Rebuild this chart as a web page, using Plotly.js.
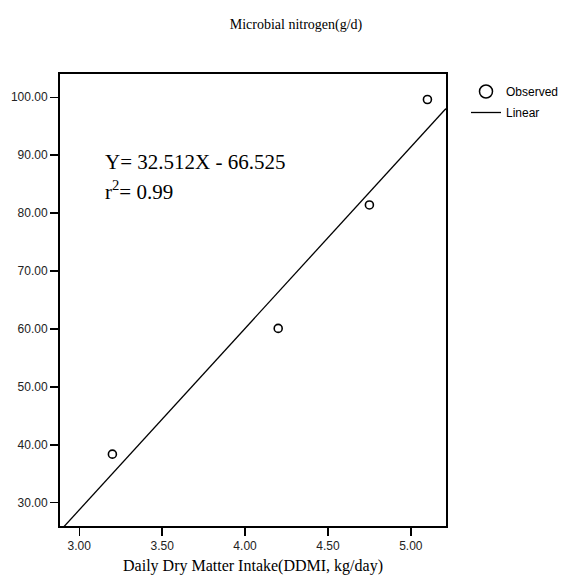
<!DOCTYPE html>
<html>
<head>
<meta charset="utf-8">
<script src="https://cdn.plot.ly/plotly-3.0.1.min.js"></script>
<style>html,body{margin:0;padding:0;background:#fff;}#chart{width:563px;height:576px;}</style>
</head>
<body>
<div id="chart"></div>
<script>
var ddmi = [3.20, 4.20, 4.75, 5.10];
var microbialN = [38.4, 60.1, 81.4, 99.6];
var xTickVals = [3.0, 3.5, 4.0, 4.5, 5.0];
var xTickText = ['3.00', '3.50', '4.00', '4.50', '5.00'];
var yTickVals = [30, 40, 50, 60, 70, 80, 90, 100];
var yTickText = ['30.00', '40.00', '50.00', '60.00', '70.00', '80.00', '90.00', '100.00'];
var xRange = [2.884, 5.212];
var yRange = [26.0, 104.0];
var equationText = 'Y= 32.512X - 66.525';
var r2Text = 'r<sup>2</sup>= 0.99';

// least-squares fit of the observed points (drawn line)
var n = ddmi.length, mx = 0, my = 0;
for (var i = 0; i < n; i++) { mx += ddmi[i]; my += microbialN[i]; }
mx /= n; my /= n;
var sxy = 0, sxx = 0;
for (var i = 0; i < n; i++) { sxy += (ddmi[i]-mx)*(microbialN[i]-my); sxx += (ddmi[i]-mx)*(ddmi[i]-mx); }
var slope = sxy / sxx, intercept = my - slope * mx;
var lineX = [xRange[0], xRange[1]];
var lineY = lineX.map(function (x) { return intercept + slope * x; });

var traces = [
  {x: ddmi, y: microbialN, mode: 'markers', type: 'scatter', name: 'Observed', showlegend: false,
   marker: {symbol: 'circle-open', size: 8, color: '#000', line: {width: 1.6, color: '#000'}}},
  {x: lineX, y: lineY, mode: 'lines', type: 'scatter', name: 'Linear', showlegend: false,
   line: {color: '#000', width: 1.3}},
  // legend entries
  {x: [null], y: [null], mode: 'markers', type: 'scatter', name: 'Observed', legendgroup: 'a',
   marker: {symbol: 'circle-open', size: 13, color: '#000', line: {width: 1.5, color: '#000'}}},
  {x: [null], y: [null], mode: 'lines', type: 'scatter', name: 'Linear', legendgroup: 'b',
   line: {color: '#000', width: 1.3}}
];

var axisCommon = {
  showline: true, linecolor: '#000', linewidth: 2, mirror: true,
  showgrid: false, zeroline: false, ticks: 'outside', ticklen: 8, tickwidth: 1.3,
  tickcolor: '#000', tickfont: {family: 'Liberation Sans, Arial, sans-serif', size: 12, color: '#222'}
};

var layout = {
  width: 563, height: 576,
  margin: {l: 60, r: 117, t: 74, b: 50},
  paper_bgcolor: '#fff', plot_bgcolor: '#fff',
  title: {text: 'Microbial nitrogen(g/d)', x: 296/563, xanchor: 'center', xref: 'container',
          y: 1 - 24/576, yanchor: 'middle', yref: 'container',
          font: {family: 'Liberation Serif, Times New Roman, serif', size: 14, color: '#000'}},
  xaxis: Object.assign({}, axisCommon, {range: xRange, tickvals: xTickVals, ticktext: xTickText,
          title: {text: 'Daily Dry Matter Intake(DDMI, kg/day)', standoff: 7,
                  font: {family: 'Liberation Serif, Times New Roman, serif', size: 16, color: '#000'}}}),
  yaxis: Object.assign({}, axisCommon, {range: yRange, tickvals: yTickVals, ticktext: yTickText}),
  legend: {xref: 'container', yref: 'container', x: 466/563, xanchor: 'left', y: 1 - 77/576, yanchor: 'top',
           font: {family: 'Liberation Sans, Arial, sans-serif', size: 12, color: '#000'},
           bgcolor: 'rgba(0,0,0,0)', tracegroupgap: 2, traceorder: 'grouped'},
  annotations: [
    {text: equationText, xref: 'paper', yref: 'paper', x: (103-60)/386, y: 1 - (162-74)/452,
     xanchor: 'left', yanchor: 'middle', showarrow: false,
     font: {family: 'Liberation Serif, Times New Roman, serif', size: 21, color: '#000'}},
    {text: r2Text, xref: 'paper', yref: 'paper', x: (103-60)/386, y: 1 - (190-74)/452,
     xanchor: 'left', yanchor: 'middle', showarrow: false,
     font: {family: 'Liberation Serif, Times New Roman, serif', size: 21, color: '#000'}}
  ],
  showlegend: true
};

Plotly.newPlot('chart', traces, layout, {displayModeBar: false, staticPlot: true});
</script>
</body>
</html>
